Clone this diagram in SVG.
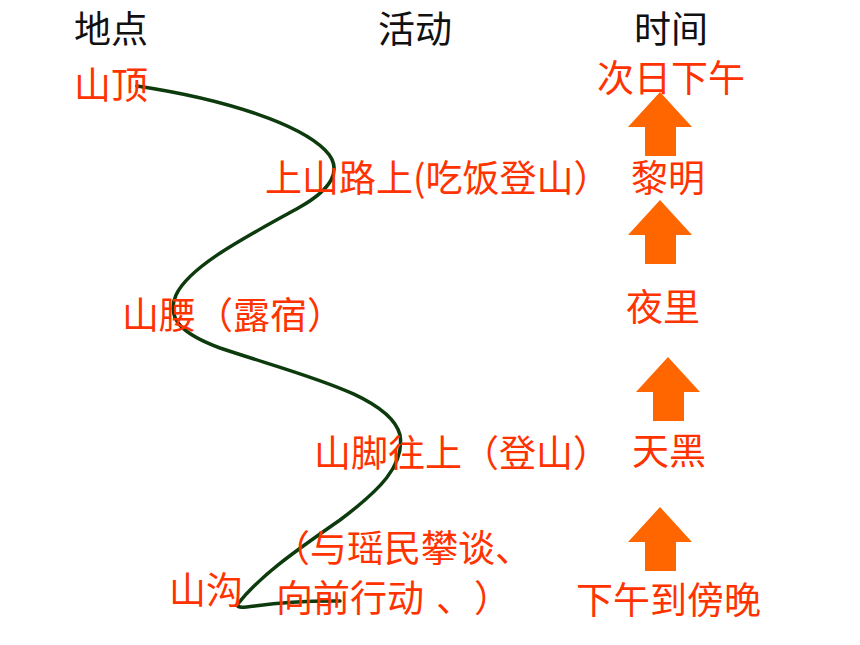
<svg xmlns="http://www.w3.org/2000/svg" width="860" height="645" viewBox="0 0 860 645">
<style>
text{font-family:"Noto Sans CJK SC","Noto Sans",sans-serif;font-size:37px}
.h{fill:#111}
.r{fill:#ff3300}
.ar{fill:#ff6600}
.c{fill:none;stroke:#0d3b0d;stroke-width:3.5;stroke-linecap:round}
</style>
<defs>
<path id="arr" d="M0,0 L32,35 L16,35 L16,64 L-15,64 L-15,35 L-32,35 Z"/>
</defs>
<rect width="860" height="645" fill="#fff"/>
<g id="headers">
<text class="h" x="74" y="43">地点</text>
<text class="h" x="378" y="43">活动</text>
<text class="h" x="634" y="43">时间</text>
</g>
<g id="connectors">
<path class="c" d="M137,86 C230,100 300,125 325,150 C345,170 330,190 300,207 C250,235 190,265 176,295 C165,320 185,335 220,348 C300,375 390,395 400,435 C405,465 380,490 340,520 C300,548 260,575 237,605 C240,612 260,600 340,601"/>
</g>
<g id="places">
<text class="r" x="74" y="99">山顶</text>
<text class="r" x="122" y="329">山腰（露宿）</text>
<text class="r" x="169" y="604">山沟</text>
</g>
<g id="activities">
<text class="r" x="265" y="192">上山路上(吃饭登山）</text>
<text class="r" x="314" y="467">山脚往上（登山）</text>
<text class="r" x="273" y="562">（与瑶民攀谈、</text>
<text class="r" x="276" y="612">向前行动<tspan x="436">、</tspan><tspan x="474">）</tspan></text>
</g>
<g id="times">
<text class="r" x="597" y="92">次日下午</text>
<text class="r" x="631" y="192">黎明</text>
<text class="r" x="626" y="321">夜里</text>
<text class="r" x="632" y="465">天黑</text>
<text class="r" x="576" y="614">下午到傍晚</text>
</g>
<g id="arrows">
<use href="#arr" class="ar" x="660" y="92"/>
<use href="#arr" class="ar" x="660" y="200"/>
<use href="#arr" class="ar" x="668" y="357"/>
<use href="#arr" class="ar" x="660" y="507"/>
</g>
</svg>
